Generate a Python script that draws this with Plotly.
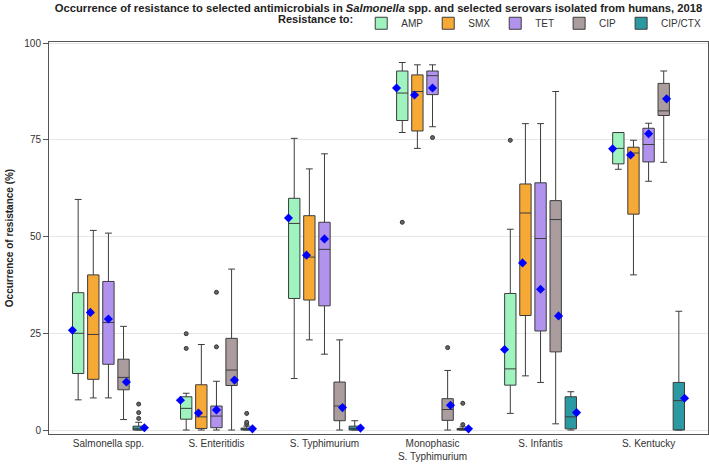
import plotly.graph_objects as go

categories = ["Salmonella spp.", "S. Enteritidis", "S. Typhimurium",
              "Monophasic<br>S. Typhimurium", "S. Infantis", "S. Kentucky"]
antimicrobials = ["AMP", "SMX", "TET", "CIP", "CIP/CTX"]
colors = ["#9ef3bf", "#f7a935", "#b193ee", "#ab9d9d", "#2a99a2"]

amp_q1 = [14.6, 2.8, 34.0, 80.0, 11.6, 68.8]
amp_med = [25.0, 5.6, 53.4, 87.1, 15.8, 72.8]
amp_q3 = [35.5, 8.6, 59.9, 92.8, 35.3, 76.9]
amp_lo = [7.8, 0.0, 13.3, 76.9, 4.3, 67.4]
amp_hi = [59.6, 9.5, 75.4, 95.0, 51.9, 76.9]
amp_mean = [25.8, 7.7, 54.8, 88.4, 20.8, 72.7]
amp_out = [[], [24.9, 21.1], [], [53.7], [74.9], []]

smx_q1 = [13.1, 0.4, 33.6, 77.3, 29.6, 55.8]
smx_med = [24.7, 3.4, 44.7, 87.5, 56.1, 71.6]
smx_q3 = [40.1, 11.7, 55.4, 91.8, 63.6, 73.1]
smx_lo = [8.3, 0.0, 23.3, 72.8, 14.0, 40.1]
smx_hi = [51.6, 22.1, 67.5, 94.4, 79.2, 74.9]
smx_mean = [30.4, 4.4, 45.2, 86.6, 43.2, 71.1]
smx_out = [[], [], [], [], [], []]

tet_q1 = [17.0, 0.6, 32.1, 86.7, 25.6, 69.3]
tet_med = [27.8, 3.6, 46.7, 91.6, 49.5, 73.8]
tet_q3 = [38.4, 6.2, 53.7, 92.8, 63.9, 78.0]
tet_lo = [8.3, 0.0, 19.6, 78.4, 12.3, 64.3]
tet_hi = [50.9, 12.6, 71.4, 94.4, 79.2, 79.3]
tet_mean = [28.7, 5.2, 49.4, 88.4, 36.4, 76.6]
tet_out = [[], [35.6, 21.5], [], [75.6], [], []]

cip_q1 = [10.4, 11.5, 2.4, 2.5, 20.2, 81.3]
cip_med = [13.6, 15.5, 6.2, 5.3, 54.4, 82.5]
cip_q3 = [18.3, 23.7, 12.4, 8.1, 59.3, 89.6]
cip_lo = [2.7, 0.0, 0.0, 0.0, 1.6, 69.2]
cip_hi = [26.8, 41.6, 23.3, 15.4, 87.5, 92.8]
cip_mean = [12.4, 12.9, 5.8, 6.4, 29.5, 85.6]
cip_out = [[], [], [], [21.3], [58.3], []]

ctx_q1 = [0.0, 0.0, 0.0, 0.0, 0.3, 0.0]
ctx_med = [0.3, 0.0, 0.4, 0.0, 3.4, 7.6]
ctx_q3 = [1.0, 0.5, 1.0, 0.4, 8.6, 12.3]
ctx_lo = [0.0, 0.0, 0.0, 0.0, 0.0, 0.0]
ctx_hi = [2.0, 1.0, 2.4, 0.8, 9.9, 30.7]
ctx_mean = [0.6, 0.3, 0.5, 0.3, 4.5, 8.2]
ctx_out = [[6.7, 4.5, 3.0], [4.3, 2.0, 1.5], [], [6.9, 1.4], [], []]

stats = [
    (amp_q1, amp_med, amp_q3, amp_lo, amp_hi, amp_mean, amp_out),
    (smx_q1, smx_med, smx_q3, smx_lo, smx_hi, smx_mean, smx_out),
    (tet_q1, tet_med, tet_q3, tet_lo, tet_hi, tet_mean, tet_out),
    (cip_q1, cip_med, cip_q3, cip_lo, cip_hi, cip_mean, cip_out),
    (ctx_q1, ctx_med, ctx_q3, ctx_lo, ctx_hi, ctx_mean, ctx_out),
]

fig = go.Figure()
for name, col, (q1, med, q3, lo, hi, mn, out) in zip(antimicrobials, colors, stats):
    # empty rows get a null placeholder so every row is a (2D) array of samples
    samples = [o if o else [None] for o in out]
    fig.add_trace(go.Box(
        name=name, x=categories, y=samples,
        q1=q1, median=med, q3=q3, lowerfence=lo, upperfence=hi,
        boxpoints="outliers", pointpos=0, jitter=0,
        marker=dict(color="#666666", size=4, symbol="circle",
                    line=dict(color="#333333", width=1)),
        fillcolor=col, line=dict(color="#3c3c3c", width=1),
        whiskerwidth=0.6,
        alignmentgroup="boxes", offsetgroup="b_" + name,
    ))
for name, (q1, med, q3, lo, hi, mn, out) in zip(antimicrobials, stats):
    fig.add_trace(go.Scatter(
        x=categories, y=mn, mode="markers", showlegend=False, name=name + " mean",
        alignmentgroup="means", offsetgroup="m_" + name,
        marker=dict(symbol="diamond", color="#0000ff", size=7),
    ))

font = "Liberation Sans, Arial, sans-serif"
fig.update_layout(
    width=709, height=465,
    margin=dict(l=49, r=1, t=42, b=31, autoexpand=False),
    paper_bgcolor="white", plot_bgcolor="white",
    font=dict(family=font, size=10, color="#333333"),
    boxmode="group", boxgap=0.3, boxgroupgap=0.25,
    scattermode="group", scattergap=0.167,
    title=dict(text="<b>Occurrence of resistance to selected antimicrobials in <i>Salmonella</i> spp. and selected serovars isolated from humans, 2018</b>",
               xref="paper", x=0.5, xanchor="center", y=0.992, yanchor="top",
               pad=dict(t=0, b=0),
               font=dict(family=font, size=11.2, color="#222222")),
    legend=dict(orientation="h", x=0.997, xanchor="right", yref="container",
                y=0.95, yanchor="middle",
                title=dict(text="<b>Resistance to:</b>", side="left",
                           font=dict(family=font, size=11, color="#222222")),
                font=dict(family=font, size=10, color="#333333"),
                itemwidth=30, bgcolor="rgba(0,0,0,0)"),
    xaxis=dict(type="category", range=[-0.55, 5.55], showgrid=False,
               showline=True, linecolor="#555555", linewidth=1, mirror=True,
               ticks="", automargin=False,
               tickfont=dict(size=10, color="#333333")),
    yaxis=dict(range=[-1.03, 100.3], tickvals=[0, 25, 50, 75, 100],
               showgrid=True, gridcolor="#e6e6e6", gridwidth=1,
               zeroline=False, showline=True, linecolor="#555555", linewidth=1,
               mirror=True, ticks="outside", ticklen=5, tickcolor="#555555",
               automargin=False,
               tickfont=dict(size=10, color="#333333"),
               title=dict(text="<b>Occurrence of resistance (%)</b>", standoff=8,
                          font=dict(family=font, size=10, color="#222222"))),
)

fig.write_html("out.html", config={"displayModeBar": False},
               post_script="document.body.style.margin='0';")
